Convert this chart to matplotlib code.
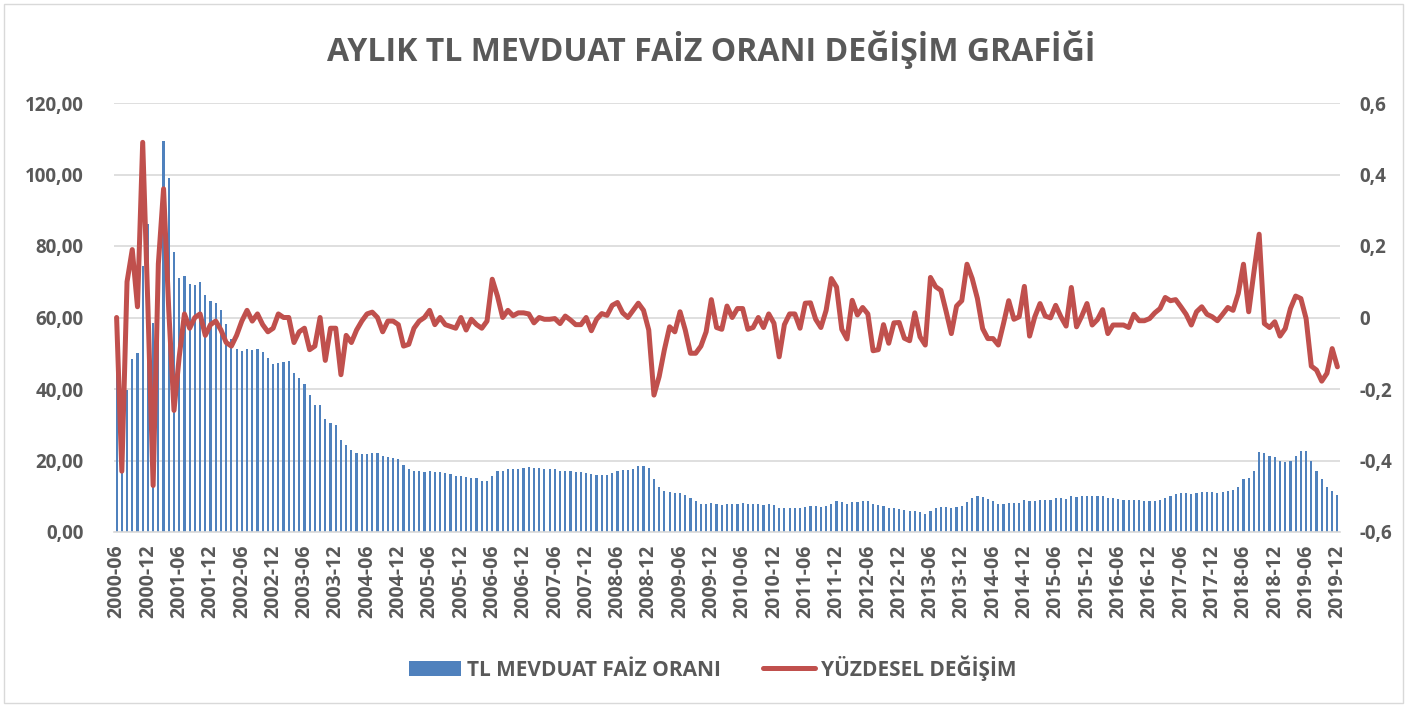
import matplotlib
matplotlib.use("Agg")
import matplotlib.pyplot as plt
from matplotlib.patches import Patch, Rectangle
from matplotlib.lines import Line2D
from matplotlib.ticker import FixedLocator, FuncFormatter
import numpy as np
import pandas as pd

plt.rcParams['font.family'] = ['Open Sans', 'DejaVu Sans']

title = "AYLIK TL MEVDUAT FAİZ ORANI DEĞİŞİM GRAFİĞİ"
bar_label = "TL MEVDUAT FAİZ ORANI"
line_label = "YÜZDESEL DEĞİŞİM"

months = list(pd.period_range('2000-06', '2019-12', freq='M').strftime('%Y-%m'))

faiz_orani = [
    56, 34, 39.6, 48.5, 50.0, 74.5, 86.2, 58.4, 70, 109.3,
    99.1, 78.3, 71.1, 71.5, 69.4, 69.2, 69.8, 66.4, 64.6, 64.0,
    62.0, 58.1, 54, 51.1, 50.5, 51.3, 50.8, 51.3, 50.3, 48.6,
    46.9, 47.4, 47.5, 47.8, 44.5, 43.0, 41.5, 38.2, 35.4, 35.4,
    31.5, 30.6, 29.9, 25.8, 24.4, 22.8, 22.1, 21.9, 21.9, 22.2,
    22.1, 21.2, 21.0, 20.8, 20.3, 18.8, 17.5, 17.0, 17.0, 16.8,
    17.0, 16.8, 16.8, 16.5, 16.3, 15.8, 15.8, 15.4, 15.2, 15.1,
    14.4, 14.3, 15.8, 17.0, 17.2, 17.5, 17.5, 17.7, 17.9, 18.2,
    17.9, 17.9, 17.7, 17.5, 17.5, 17.2, 17.2, 17.1, 16.8, 16.8,
    16.6, 16.1, 16.0, 16.0, 16.0, 16.6, 17.2, 17.4, 17.4, 17.7,
    18.4, 18.6, 18.0, 14.7, 12.6, 11.6, 11.3, 10.9, 11.0, 10.4,
    9.6, 8.7, 7.9, 7.7, 8.1, 7.9, 7.6, 7.9, 7.9, 7.9,
    8.2, 7.9, 7.7, 7.7, 7.6, 7.7, 7.5, 6.8, 6.8, 6.8,
    6.8, 6.7, 7.0, 7.2, 7.2, 7.0, 7.2, 7.9, 8.7, 8.4,
    7.9, 8.4, 8.4, 8.7, 8.7, 7.9, 7.5, 7.2, 6.7, 6.7,
    6.5, 6.1, 5.8, 5.8, 5.6, 5.1, 5.9, 6.8, 7.0, 7.0,
    6.7, 7.0, 7.3, 8.4, 9.6, 10.0, 9.8, 9.1, 8.7, 7.9,
    7.9, 8.2, 8.2, 8.2, 9.0, 8.7, 8.7, 9.0, 9.0, 9.0,
    9.5, 9.5, 9.1, 10.0, 9.8, 10.0, 10.1, 10.0, 10.0, 10.1,
    9.6, 9.5, 9.1, 9.0, 8.9, 8.9, 8.9, 8.7, 8.7, 8.7,
    9.0, 9.6, 10.0, 10.5, 10.9, 11.0, 10.7, 10.9, 11.2, 11.2,
    11.2, 11.0, 11.2, 11.5, 11.8, 12.6, 14.9, 15.2, 17.2, 22.4,
    22.1, 21.2, 21.0, 20.0, 19.6, 20.0, 21.2, 22.6, 22.6, 19.9,
    17.2, 14.7, 12.6, 11.6, 10.3,
]

yuzdesel_degisim = [
    0.0, -0.43, 0.10, 0.19, 0.03, 0.49, 0.03, -0.47, 0.15, 0.36,
    0.02, -0.26, -0.11, 0.01, -0.03, 0.0, 0.01, -0.05, -0.02, -0.01,
    -0.035, -0.07, -0.08, -0.05, -0.01, 0.02, -0.01, 0.01, -0.02, -0.04,
    -0.03, 0.01, 0.0, 0.0, -0.07, -0.04, -0.03, -0.09, -0.08, 0.0,
    -0.12, -0.03, -0.03, -0.16, -0.05, -0.07, -0.035, -0.01, 0.01, 0.015,
    0.0, -0.04, -0.01, -0.01, -0.02, -0.08, -0.075, -0.03, -0.01, 0.0,
    0.02, -0.02, 0.0, -0.02, -0.025, -0.03, 0.0, -0.035, -0.005, -0.02,
    -0.03, -0.01, 0.107, 0.06, 0.0, 0.02, 0.005, 0.013, 0.013, 0.01,
    -0.015, 0.0, -0.005, -0.005, -0.003, -0.017, 0.004, -0.007, -0.02, -0.02,
    0.0, -0.037, -0.005, 0.011, 0.006, 0.034, 0.042, 0.013, 0.0, 0.02,
    0.04, 0.02, -0.035, -0.217, -0.165, -0.09, -0.026, -0.04, 0.016, -0.035,
    -0.10, -0.10, -0.08, -0.04, 0.05, -0.028, -0.033, 0.032, 0.0, 0.025,
    0.025, -0.033, -0.028, 0.0, -0.028, 0.01, -0.016, -0.11, -0.02, 0.01,
    0.01, -0.03, 0.04, 0.041, -0.005, -0.028, 0.02, 0.109, 0.085, -0.033,
    -0.06, 0.048, 0.007, 0.028, 0.01, -0.093, -0.09, -0.02, -0.072, -0.015,
    -0.014, -0.058, -0.065, 0.013, -0.054, -0.077, 0.112, 0.086, 0.076, 0.017,
    -0.045, 0.032, 0.047, 0.149, 0.109, 0.053, -0.031, -0.059, -0.059, -0.077,
    -0.017, 0.047, -0.005, 0.002, 0.087, -0.052, 0.002, 0.039, 0.004, -0.001,
    0.034, 0.002, -0.024, 0.084, -0.026, 0.004, 0.039, -0.021, -0.006, 0.022,
    -0.045, -0.021, -0.021, -0.021, -0.028, 0.009, -0.009, -0.009, -0.003, 0.013,
    0.025, 0.056, 0.047, 0.05, 0.03, 0.009, -0.021, 0.016, 0.03, 0.009,
    0.002, -0.009, 0.009, 0.028, 0.02, 0.067, 0.149, 0.016, 0.127, 0.233,
    -0.017, -0.028, -0.012, -0.052, -0.031, 0.025, 0.06, 0.053, -0.003, -0.136,
    -0.147, -0.178, -0.156, -0.087, -0.138,
]

left_ticks = [0, 20, 40, 60, 80, 100, 120]
right_ticks = [-0.6, -0.4, -0.2, 0.0, 0.2, 0.4, 0.6]

TXT = '#595959'
BLUE = '#4F81BD'
RED = '#C0504D'
GRID = '#D9D9D9'

W, H = 1407, 707
fig = plt.figure(figsize=(W / 100, H / 100), dpi=100)
fig.patch.set_facecolor('white')

# chart border
fig.patches.append(Rectangle((4 / W, 4 / H), 1 - 8 / W, 1 - 8 / H, transform=fig.transFigure,
                             fill=False, edgecolor=GRID, linewidth=1.0))

L, R, T, B = 114, 1340, 103, 532
ax = fig.add_axes([L / W, 1 - B / H, (R - L) / W, (B - T) / H])
ax2 = ax.twinx()

x = np.arange(len(months))
ax.bar(x, faiz_orani, width=0.42, color=BLUE, zorder=2)
ax2.plot(x, yuzdesel_degisim, color=RED, linewidth=3.6, solid_joinstyle='round',
         solid_capstyle='round', zorder=3)

ax.set_xlim(-0.5, len(months) - 0.5)
ax.set_ylim(0, 120)
ax2.set_ylim(-0.6, 0.6)

ax.yaxis.set_major_locator(FixedLocator(left_ticks))
ax.yaxis.set_major_formatter(FuncFormatter(lambda v, p: f"{v:.2f}".replace('.', ',')))
ax2.yaxis.set_major_locator(FixedLocator(right_ticks))
ax2.yaxis.set_major_formatter(FuncFormatter(
    lambda v, p: '0' if abs(v) < 1e-9 else f"{v:.1f}".replace('.', ',')))

ax.grid(axis='y', color=GRID, linewidth=1.2, zorder=0)
ax.set_axisbelow(True)

tick_idx = list(range(0, len(months), 6))
ax.set_xticks(tick_idx)
ax.set_xticklabels([months[i] for i in tick_idx], rotation=90, fontsize=14,
                   fontweight='bold', color=TXT)

for a in (ax, ax2):
    for s in a.spines.values():
        s.set_visible(False)
ax.spines['bottom'].set_visible(True)
ax.spines['bottom'].set_color(GRID)
ax.spines['bottom'].set_linewidth(1.2)

ax.tick_params(axis='x', length=0, pad=9)
ax.tick_params(axis='y', length=0, pad=22, labelsize=13.5, labelcolor=TXT)
ax2.tick_params(axis='y', length=0, pad=14, labelsize=13.5, labelcolor=TXT)
for lab in ax.get_yticklabels() + ax2.get_yticklabels():
    lab.set_fontweight('bold')

fig.text(711 / W, 1 - 50 / H, title, ha='center', va='center', fontsize=23,
         fontweight='bold', color=TXT)

handles = [Patch(facecolor=BLUE, edgecolor='none'),
           Line2D([0], [0], color=RED, linewidth=3.6, solid_capstyle='round')]
leg = fig.legend(handles, [bar_label, line_label], loc='center', ncol=2,
                 bbox_to_anchor=(713 / W, 1 - 668 / H), frameon=False,
                 prop={'weight': 'bold', 'size': 15}, handlelength=2.5,
                 handleheight=0.75, handletextpad=0.3, columnspacing=2.0)
for t in leg.get_texts():
    t.set_color(TXT)

fig.savefig('out.png', dpi=100, facecolor='white')
